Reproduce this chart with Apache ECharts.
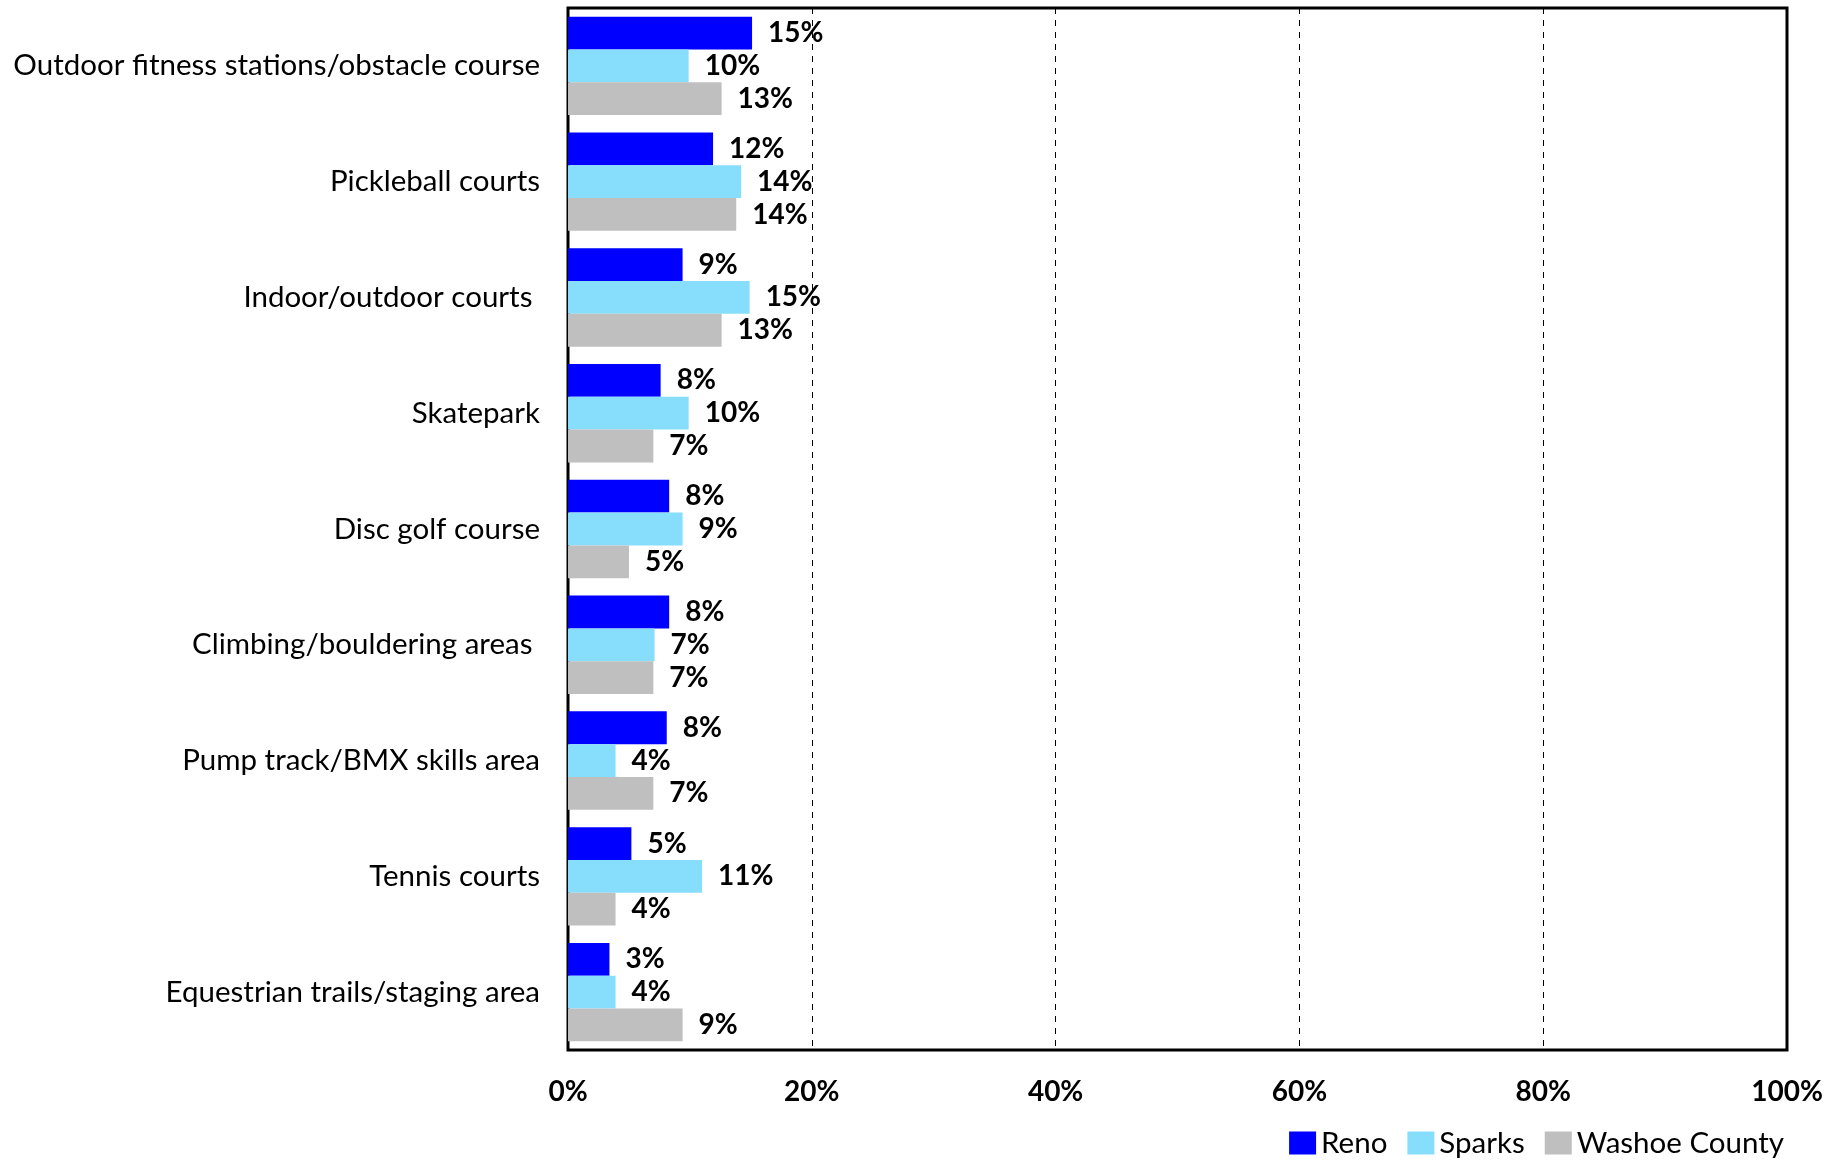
<!DOCTYPE html>
<html><head><meta charset="utf-8">
<script src="https://cdn.jsdelivr.net/npm/echarts@6/dist/echarts.min.js"></script>
<style>html,body{margin:0;padding:0;background:#fff}#c{width:1843px;height:1160px}</style>
</head><body><div id="c"></div>
<script>
const categories = ["Outdoor fitness stations/obstacle course","Pickleball courts","Indoor/outdoor courts ","Skatepark","Disc golf course","Climbing/bouldering areas ","Pump track/BMX skills area","Tennis courts","Equestrian trails/staging area"];
const reno =   [15.1, 11.9, 9.4, 7.6, 8.3, 8.3, 8.1, 5.2, 3.4];
const sparks = [9.9, 14.2, 14.9, 9.9, 9.4, 7.1, 3.9, 11.0, 3.9];
const washoe = [12.6, 13.8, 12.6, 7.0, 5.0, 7.0, 7.0, 3.9, 9.4];
const seriesNames = ["Reno","Sparks","Washoe County"];
const colors = ["#0000FF","#87DEFC","#BFBFBF"];
const FONT = "Lato";
const chart = echarts.init(document.getElementById('c'));
const mk = (name, data, color) => ({
  name, type:'bar', data, barGap:'0%', barCategoryGap:'15%',
  itemStyle:{color},
  label:{show:true, position:'right', distance:16, color:'#000', fontWeight:'bold', fontSize:28, fontFamily:FONT,
    formatter:p=>Math.round(p.value)+'%'}
});
chart.setOption({
  animation:false,
  textStyle:{fontFamily:FONT},
  grid:{left:568, right:56, top:8, bottom:110, show:true, borderColor:'#000', borderWidth:3, containLabel:false},
  legend:{right:54, bottom:-3, itemWidth:27, itemHeight:23, itemGap:20, icon:'rect',
    textStyle:{fontSize:29.5, color:'#000', fontFamily:FONT, padding:[0,0,0,0]}, data:seriesNames},
  xAxis:{type:'value', min:0, max:100, interval:20,
    axisLine:{show:false}, axisTick:{show:false},
    axisLabel:{formatter:'{value}%', color:'#000', fontWeight:'bold', fontSize:28, margin:28, fontFamily:FONT},
    splitLine:{show:true, lineStyle:{color:'#000', type:[6,6], width:1}}},
  yAxis:{type:'category', data:categories, inverse:true,
    axisLine:{show:false}, axisTick:{show:false},
    axisLabel:{color:'#000', fontSize:29.5, margin:28, fontFamily:FONT}},
  series:[mk(seriesNames[0], reno, colors[0]), mk(seriesNames[1], sparks, colors[1]), mk(seriesNames[2], washoe, colors[2])]
});
</script></body></html>
